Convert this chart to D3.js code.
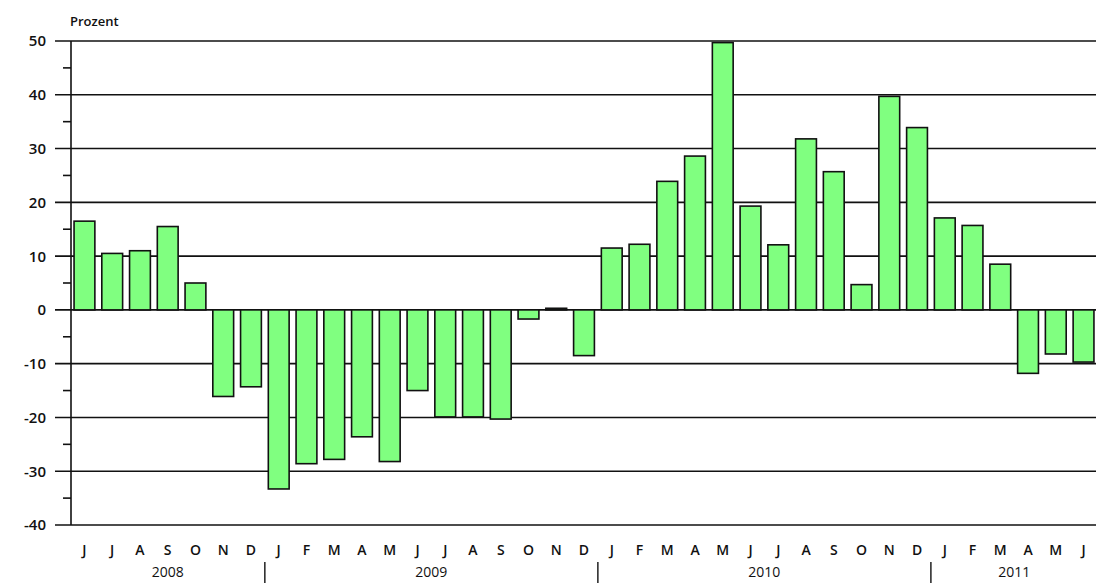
<!DOCTYPE html>
<html>
<head>
<meta charset="utf-8">
<script src="https://cdn.jsdelivr.net/npm/d3@7"></script>
<style>
  body { margin: 0; background: #fff; }
  svg text { font-family: "Open Sans", "Liberation Sans", Arial, sans-serif; fill: #111; }
</style>
</head>
<body>
<div id="chart"></div>
<script>
// monthly change, Prozent, Jun 2008 - Jun 2011
var months = ["J","J","A","S","O","N","D",
  "J","F","M","A","M","J","J","A","S","O","N","D",
  "J","F","M","A","M","J","J","A","S","O","N","D",
  "J","F","M","A","M","J"];
var values = [16.5, 10.5, 11, 15.5, 5, -16.1, -14.3,
  -33.3, -28.6, -27.8, -23.6, -28.2, -15, -19.9, -19.9, -20.3, -1.7, 0.3, -8.5,
  11.5, 12.2, 23.9, 28.6, 49.7, 19.3, 12.1, 31.8, 25.7, 4.7, 39.7, 33.9,
  17.1, 15.7, 8.5, -11.8, -8.2, -9.7];
var years = [
  { label: "2008", start: 0, end: 6 },
  { label: "2009", start: 7, end: 18 },
  { label: "2010", start: 19, end: 30 },
  { label: "2011", start: 31, end: 36 }
];
var majorTicks = [-40, -30, -20, -10, 0, 10, 20, 30, 40, 50];
var minorTicks = [-35, -25, -15, -5, 5, 15, 25, 35, 45];

function drawChart(elm) {
  var width = 1096, height = 583;
  var left = 71, right = 1097, top = 41, bottom = 525;

  var svg = d3.select(elm).append("svg")
    .attr("width", width)
    .attr("height", height);

  var x = d3.scaleBand()
    .domain(d3.range(months.length))
    .range([left, right])
    .paddingInner(0.25)
    .paddingOuter(0.11);

  var y = d3.scaleLinear()
    .domain([-40, 50])
    .range([bottom, top]);

  // grid lines + tick labels
  svg.append("g")
    .selectAll("line")
    .data(majorTicks)
    .join("line")
    .attr("x1", left - 16)
    .attr("x2", width)
    .attr("y1", d => y(d))
    .attr("y2", d => y(d))
    .attr("stroke", "#111")
    .attr("stroke-width", 1.6);

  svg.append("g")
    .selectAll("line")
    .data(minorTicks)
    .join("line")
    .attr("x1", left - 8)
    .attr("x2", left)
    .attr("y1", d => y(d))
    .attr("y2", d => y(d))
    .attr("stroke", "#111")
    .attr("stroke-width", 1.6);

  svg.append("g")
    .selectAll("text")
    .data(majorTicks)
    .join("text")
    .attr("x", 46)
    .attr("y", d => y(d))
    .attr("dy", "0.36em")
    .attr("text-anchor", "end")
    .attr("font-size", 15)
    .attr("font-weight", 600)
    .text(d => d);

  svg.append("text")
    .attr("x", 70)
    .attr("y", 26)
    .attr("font-size", 13)
    .attr("font-weight", 600)
    .text("Prozent");

  // vertical axis
  svg.append("line")
    .attr("x1", left).attr("x2", left)
    .attr("y1", y(50)).attr("y2", y(-40))
    .attr("stroke", "#111")
    .attr("stroke-width", 1.6);

  // bars
  svg.append("g")
    .selectAll("rect")
    .data(values)
    .join("rect")
    .attr("x", (d, i) => x(i))
    .attr("width", x.bandwidth())
    .attr("y", d => y(Math.max(0, d)))
    .attr("height", d => Math.abs(y(d) - y(0)))
    .attr("fill", "#80ff80")
    .attr("stroke", "#111")
    .attr("stroke-width", 1.6);

  // month labels
  svg.append("g")
    .selectAll("text")
    .data(months)
    .join("text")
    .attr("x", (d, i) => x(i) + x.bandwidth() / 2)
    .attr("y", 555)
    .attr("text-anchor", "middle")
    .attr("font-size", 14)
    .attr("font-weight", 600)
    .text(d => d);

  // year labels and separators
  svg.append("g")
    .selectAll("text")
    .data(years)
    .join("text")
    .attr("x", d => (x(d.start) + x(d.end) + x.bandwidth()) / 2)
    .attr("y", 577)
    .attr("text-anchor", "middle")
    .attr("font-size", 14)
    .text(d => d.label);

  svg.append("g")
    .selectAll("line")
    .data(years.slice(1))
    .join("line")
    .attr("x1", d => x(d.start) - x.step() * x.paddingInner() / 2)
    .attr("x2", d => x(d.start) - x.step() * x.paddingInner() / 2)
    .attr("y1", 562)
    .attr("y2", 583)
    .attr("stroke", "#111")
    .attr("stroke-width", 1.4);
}

drawChart("#chart");
</script>
</body>
</html>
